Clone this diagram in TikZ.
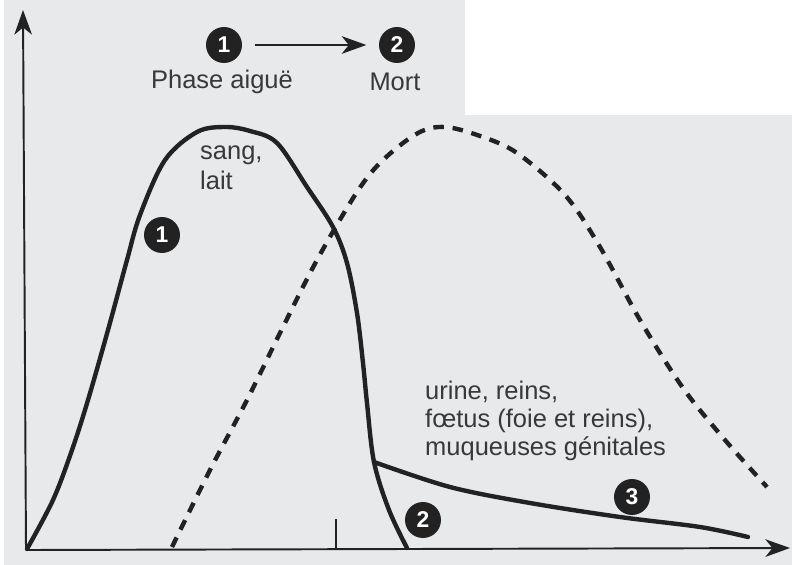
\documentclass[tikz,border=0pt]{standalone}
\usepackage{fontspec}
\setmainfont{Liberation Sans}
\usepackage{xcolor}
\usetikzlibrary{arrows.meta}

\definecolor{ink}{RGB}{34,34,34}
\definecolor{paper}{RGB}{231,233,235}

\begin{document}
\begin{tikzpicture}[
  x=0.02cm, y=-0.02cm,
  axis/.style={draw=ink, line width=1.1pt, -{Stealth[length=14pt,width=10pt,inset=4pt]}},
  curve/.style={draw=ink, line width=2.5pt, line cap=round, line join=round},
  dashcurve/.style={curve, dash pattern=on 6pt off 5pt, line cap=butt},
  numdot/.style={circle, fill=ink, text=white, inner sep=0pt, minimum size=0.72cm,
    font=\fontsize{13}{13}\selectfont\bfseries},
  lbl/.style={text=ink!90, align=left, font=\fontsize{14.5}{16}\selectfont}
]
\useasboundingbox (0,0) rectangle (792,565);
% paper
\fill[paper] (4,0) rectangle (792,565);
\fill[white] (465,0) rectangle (792,115);

% axes
\coordinate (O) at (26,550);
\coordinate (ytip) at (23,10);
\coordinate (xtip) at (790,548);
\coordinate (tick) at (336,550);
\draw[axis] (O) -- (ytip);
\draw[axis] (O) -- (xtip);
\draw[draw=ink, line width=1.1pt] (tick) -- ++(0,-31);

% phases
\node[numdot] (top1) at (224,45) {1};
\node[numdot] (top2) at (397,45) {2};
\draw[draw=ink, line width=1.3pt, -{Stealth[length=14pt,width=10pt,inset=4pt]},
  shorten <=7pt, shorten >=7pt] (top1) -- (top2);
\node[lbl] (aigue) at (222,82) {Phase aiguë};
\node[lbl] (mort) at (395,82) {Mort};

% courbe du sang
\coordinate (junc) at (374,462);
\draw[curve] plot[smooth, tension=0.55] coordinates {
  (27,549) (53,500) (72,450) (88,400) (108,330) (127,260) (140,215)
  (165,160) (197,132) (225,127) (250,131) (277,143) (307,187) (333,227)
  (347,263) (357,313) (363,363) (367,403) (junc) (389,510) (407,548)};
\draw[curve] plot[smooth, tension=0.55] coordinates {
  (junc) (450,487) (530,503) (620,517) (700,527) (748,537)};

% courbe en pointilles
\draw[dashcurve] plot[smooth, tension=0.55] coordinates {
  (172,547) (210,470) (247,400) (280,333) (317,260) (357,192) (383,160)
  (418,133) (445,127) (480,136) (517,153) (565,195) (600,247) (640,320)
  (683,388) (725,440) (767,487)};

% labels
\node[lbl, anchor=west, font=\fontsize{14.5}{17}\selectfont] (sang) at (194,168) {sang,\\lait};
\node[numdot] (mid1) at (162,235) {1};
\node[numdot] (low2) at (423,520) {2};
\node[numdot] (low3) at (632,497) {3};
\node[lbl, anchor=west] (organes) at (419,421)
  {urine, reins,\\fœtus (foie et reins),\\muqueuses génitales};
\end{tikzpicture}
\end{document}
